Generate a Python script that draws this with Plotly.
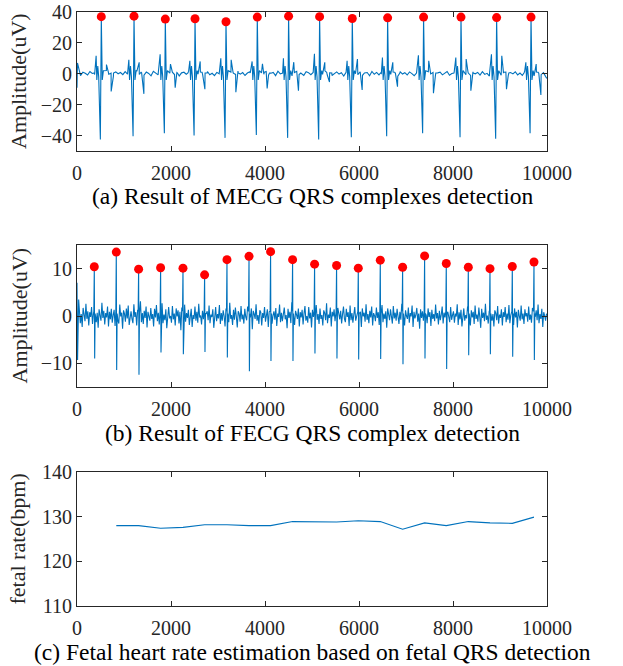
import plotly.graph_objects as go

# ---------------- data ----------------
# (a) maternal ECG: detected R peaks
mecg_r_x = [517, 1213, 1879, 2511, 3170, 3836, 4502, 5162, 5857, 6609, 7374, 8170, 8928, 9660]
mecg_r_amp = [37.0, 37.3, 35.4, 35.6, 33.7, 36.7, 37.3, 37.0, 35.8, 36.2, 36.7, 36.7, 36.4, 36.7]
mecg_s_amp = [-42.5, -40.4, -38.5, -40.0, -41.5, -39.6, -41.5, -42.5, -41.1, -40.4, -38.5, -41.1, -42.1, -38.5]
mecg_pre_amp = [11.6, 9.0, 12.6, 8.4, 10.0, 8.0, 10.0, 13.0, 8.4, 10.5, 12.0, 10.5, 12.6, 7.4]
mecg_t_amp = [6.0, 7.4, 6.3, 8.0, 9.0, 6.5, 7.5, 7.4, 9.5, 7.4, 8.4, 9.5, 11.6, 6.3]
mecg_dip_amp = [-11.4, -13.0, -9.0, -10.0, -12.0, -9.5, -11.0, -5.3, -10.5, -8.4, -12.6, -11.0, -10.0, -13.7]
mecg_shape_dx = [-150, -110, -95, -75, -55, -20, 0, 20, 45, 110, 150, 210, 260]
mecg_start = [(0, -9.0), (10, 7.0)]
mecg_end = [(10000, -3.0)]
mecg_noise = [
    0.5, -1.2, 1.0, 0.3, -0.8, 1.5, 0.2, -0.5, 1.8, 0.6, -1.0, 0.9, 2.1, -0.3, 0.4, -1.5, 1.2, 0.0, 0.8, -0.6,
    1.4, -0.2, 0.7, -1.1, 0.3, 1.9, -0.4, 0.6, -0.9, 1.1, 0.2, -1.3, 1.6, 0.5, -0.7, 0.9, -0.1, 1.3, -0.8, 0.4,
    2.0, -0.5, 0.8, -1.4, 0.6, 1.0, -0.3, 1.7, 0.1, -1.0, 0.7, -0.2, 1.2, -0.9, 0.5, 1.5, -0.6, 0.3, -1.2, 0.9,
    0.0, 1.4, -0.7, 0.6, -1.5, 1.1, 0.4, -0.4, 1.8, -0.2, 0.8, -1.1, 0.5, 1.3, -0.8, 0.2, -1.6, 1.0, 0.6, -0.3,
    1.5, -0.9, 0.4, 0.9, -1.2, 1.7, -0.1, 0.5, -0.7, 1.2, 0.3, -1.4, 0.8, 1.6, -0.5, 0.1, -1.0, 1.4, 0.7, -0.6,
    0.9, -1.3, 1.1, 0.2, -0.4, 1.9, -0.8, 0.6, -1.1, 0.3, 1.2, -0.2, 0.7, -1.5, 1.0, 0.4, -0.9, 1.6, 0.0, -0.6,
    1.3, -1.0, 0.5, 0.8, -1.3, 1.5, -0.3, 0.9, -0.7, 0.2, 1.8, -1.1, 0.6, -0.4, 1.1, 0.3, -1.6, 1.4, -0.2, 0.7,
    -0.8, 1.2, 0.1, -1.2, 0.9, 1.7, -0.5, 0.4, -1.0, 1.3, -0.1, 0.8, -1.4, 0.6, 1.0, -0.7, 0.3, 1.5, -0.9, 0.2,
    1.1, -1.3, 0.7, -0.2, 1.6, -0.6, 0.5, -1.1, 1.2, 0.0, 0.9, -0.8, 1.4, -0.4, 0.3, -1.5, 1.0, 0.6, -0.3, 1.8,
    -0.9, 0.4, 1.1, -1.2, 0.8, -0.1, 1.3, -0.7, 0.5, -1.0, 1.6, 0.2, -0.5, 0.9, -1.4, 1.2, 0.3, -0.6, 0.7, -2.0,
]

# (b) fetal ECG: detected R peaks
fecg_r_x = [368, 836, 1311, 1779, 2255, 2715, 3191, 3660, 4119, 4587,
            5055, 5523, 5985, 6453, 6928, 7396, 7857, 8326, 8787, 9262, 9723]
fecg_r_amp = [10.4, 13.5, 9.9, 10.2, 10.1, 8.7, 11.9, 12.6, 13.6, 11.9,
              10.95, 10.66, 10.1, 11.8, 10.3, 12.7, 11.1, 10.3, 10.0, 10.45, 11.4]
fecg_s_amp = [-9.0, -11.4, -12.4, -7.7, -8.1, -7.6, -8.75, -11.65, -9.5, -9.5,
              -7.9, -9.0, -9.2, -9.1, -10.2, -9.0, -11.2, -8.3, -8.1, -8.6, -9.3]
fecg_shape_dx = [-10, 0, 8, 18]
fecg_start = [(0, 7.0), (12, -9.3), (35, 3.5)]
fecg_noise = [
    1.2, -0.8, 2.1, -1.5, 0.4, -2.3, 1.7, 0.3, -1.1, 2.6, -0.6, 1.0, -2.0, 0.8, -0.2, 1.9, -1.7, 0.5, -0.9, 2.3,
    -1.3, 0.7, -2.5, 1.4, 0.1, -1.0, 2.8, -0.4, 1.1, -1.8, 0.6, -0.3, 2.0, -2.2, 0.9, -0.7, 1.5, -1.4, 0.2, 1.3,
    -2.1, 0.4, 1.8, -0.9, -1.6, 2.4, -0.1, 0.7, -2.7, 1.2, 0.5, -1.2, 1.6, -0.5, 2.2, -1.9, 0.3, 1.0, -0.6, -1.5,
    2.5, -0.2, 0.8, -2.0, 1.3, -0.8, 0.1, 3.1, -1.3, 0.6, -1.7, 1.1, -0.4, 2.0, -2.4, 0.9, 0.2, -1.0, 1.7, -0.6,
    0.4, -2.2, 1.5, -0.3, 2.3, -1.1, 0.7, -1.8, 1.0, -0.2, 2.7, -1.5, 0.3, -0.9, 1.4, -2.6, 0.8, 1.9, -0.5, 0.0,
    -1.4, 2.1, -0.7, 0.5, -2.0, 1.6, -0.1, 1.2, -1.6, 0.9, -3.0, 1.8, 0.4, -0.8, 2.4, -1.2, 0.6, -0.4, 1.3, -1.9,
    0.7, 1.5, -2.3, 0.2, -0.6, 2.0, -1.0, 0.9, -1.4, 2.6, -0.3, 0.1, -1.8, 1.1, -0.7, 1.7, -2.1, 0.5, 1.0, -0.9,
    2.2, -1.5, 0.3, -0.2, 1.4, -2.5, 0.8, 1.9, -1.1, 0.4, -0.5, 2.3, -1.7, 0.6, -1.0, 1.2, 0.0, -2.2, 1.6, -0.4,
    0.9, -1.3, 2.8, -0.6, 0.2, -1.9, 1.3, -0.8, 1.8, -0.1, -2.4, 1.0, 0.5, -1.2, 2.1, -0.7, 0.3, -1.6, 1.5, -0.2,
    -0.9, 2.0, -1.4, 0.7, -0.3, 1.6, -2.8, 1.1, 0.4, -0.6, 2.5, -1.0, 0.2, -1.7, 1.2, 0.8, -2.0, 0.6, -0.4, 1.9,
    -1.2, 0.3, 1.4, -2.3, 0.9, -0.5, 2.2, -1.6, 0.1, 1.0, -0.8, 1.7, -2.1, 0.5, -0.2, 2.4, -1.3, 0.7, -1.1, 0.4,
    1.8, -0.7, 0.2, -2.6, 1.5, -0.4, 0.9, -1.5, 2.9, -0.9, 0.6, -1.9, 1.1, 0.3, -0.6, 1.6, -2.2, 0.8, -0.3, 1.3,
    -1.8, 0.5, 2.1, -1.0, 0.0, -1.4, 1.9, -0.5, 0.7, -2.4, 1.3, -0.2, 1.0, -1.2, 2.3, -0.8, 0.4, -1.7, 1.6, -0.6,
    0.2, -2.0, 1.2, 0.6, -0.9, 2.7, -1.5, 0.3, -0.4, 1.8, -2.2, 0.9, -0.1, 1.4, -1.1, 0.5, -2.6, 1.7, 0.1, -0.7,
    1.1, -1.6, 0.4, 2.0, -0.6, -1.3, 1.5, -0.2, 0.8, -2.1, 2.2, -0.9, 0.6, -1.4, 0.3, 1.9, -1.0, 0.2, -1.8, 1.3,
    -0.5, 0.9, -2.3, 1.6, -0.1, 0.7, -1.2, 2.5, -0.8, 0.4, -1.5, 1.1, -0.3, 2.0, -2.0, 0.6, 0.1, -1.1, 1.8, -0.4,
    0.8, -1.9, 1.3, -0.7, 2.3, -1.3, 0.5, -0.6, 1.0, -2.5, 1.6, 0.2, -0.9, 1.4, -0.2, -1.6, 2.1, -0.5, 0.7, -1.0,
    1.5, -0.3, -1.7, 0.9, -0.8, 2.6, -1.1, 0.4, -2.0, 1.2, 0.0, -0.6, 1.8, -1.4, 0.6, -0.1, 2.2, -2.3, 0.9, -0.5,
    0.3, 1.7, -1.2, 0.5, -2.7, 1.4, -0.4, 1.0, -1.0, 2.1, -0.7, 0.2, -1.5, 1.6, -0.2, 0.8, -2.1, 1.3, -0.6, 0.4,
    -1.1, 2.4, -0.5, 0.6, -1.8, 1.1, -0.9, 0.3, 2.0, -1.6, 0.7, -0.3, 1.5, -2.4, 0.9, 0.1, -1.3, 1.9, -0.8, 0.2,
    1.0, -1.4, 0.5, -0.1, 2.5, -1.9, 0.8, -0.7, 1.3, -2.2, 0.4, 1.6, -1.0, 0.2, -0.5, 2.0, -1.5, 0.6, -2.0, 1.2,
    -0.3, 0.9, -1.7, 2.2, -0.6, 0.3, -1.2, 1.8, -0.2, -2.5, 1.5, -0.4, 0.7, -1.1, 2.6, -0.8, 0.1, -1.6, 1.0, -0.5,
    1.7, -1.0, 0.4, -2.2, 1.2, 0.6, -0.9, 2.1, -1.6, 0.3, -0.4, 1.4, -2.0, 0.8, -0.2, 1.9, -1.3, 0.5, -0.8, 2.3,
    -1.5, 0.2, 1.1, -0.6, -1.9, 1.6, -0.3, 0.9, -2.4, 1.3, 0.0, -1.0, 2.2, -0.7, 0.5, -1.7, 1.4, -0.1, 0.6, -1.2,
    2.0, -0.8, 0.3, -1.4, 1.7, -2.1, 0.6, -0.2, 1.2, -0.9, 2.4, -1.5, 0.4, -0.6, 1.5, -2.3, 0.8, 0.1, -1.0, 0.5,
]

# (c) fetal heart rate (bpm), at fetal beats 2..21
fhr_x = fecg_r_x[1:]
fhr_bpm = [128.0, 128.0, 127.4, 127.6, 128.2, 128.2, 128.0, 128.0, 128.9, 128.8,
           128.8, 129.1, 128.9, 127.2, 128.6, 128.0, 128.9, 128.6, 128.5, 129.9]

x_ticks = [0, 2000, 4000, 6000, 8000, 10000]
x_tick_labels = ["0", "2000", "4000", "6000", "8000", "10000"]
captions = ["(a) Result of MECG QRS complexes detection",
            "(b) Result of FECG QRS complex detection",
            "(c) Fetal heart rate estimation based on fetal QRS detection"]
ytitles = ["Amplitude(uV)", "Amplitude(uV)", "fetal rate(bpm)"]


# ---------------- build traces ----------------
def build_signal(start, noise, noise_x0, noise_dx, beats_x, shape_dx, shape_vals, core, end):
    pts = list(start)
    xmin = max(p[0] for p in start) + 15
    for i, v in enumerate(noise):
        x = noise_x0 + noise_dx * i
        if x <= xmin:
            continue
        if any(r + core[0] <= x <= r + core[1] for r in beats_x):
            continue
        pts.append((x, v))
    for i, r in enumerate(beats_x):
        for dx, val in zip(shape_dx, shape_vals(i)):
            pts.append((r + dx, val))
    pts += list(end)
    pts.sort(key=lambda p: p[0])
    return [p[0] for p in pts], [p[1] for p in pts]


xa, ya = build_signal(
    mecg_start, mecg_noise, 25, 50, mecg_r_x, mecg_shape_dx,
    lambda i: [0.5, mecg_pre_amp[i], -4.0, 5.0, -2.0, mecg_s_amp[i], mecg_r_amp[i],
               -4.0, 2.0, mecg_t_amp[i], 1.0, mecg_dip_amp[i], 0.5],
    (-120, 60), mecg_end)

xb, yb = build_signal(
    fecg_start, fecg_noise, 10, 20, fecg_r_x, fecg_shape_dx,
    lambda i: [1.0, fecg_r_amp[i], fecg_s_amp[i], 0.5],
    (-15, 25), [])

LINE = '#0072BD'
AXC = '#262626'
FONT = '"Liberation Serif", "Times New Roman", Times, serif'

fig = go.Figure()
fig.add_trace(go.Scatter(x=xa, y=ya, mode='lines', line=dict(color=LINE, width=1.1),
                         xaxis='x', yaxis='y', hoverinfo='skip'))
fig.add_trace(go.Scatter(x=mecg_r_x, y=mecg_r_amp, mode='markers', cliponaxis=False,
                         marker=dict(color='#FF0000', size=9), xaxis='x', yaxis='y'))
fig.add_trace(go.Scatter(x=xb, y=yb, mode='lines', line=dict(color=LINE, width=1.1),
                         xaxis='x2', yaxis='y2', hoverinfo='skip'))
fig.add_trace(go.Scatter(x=fecg_r_x, y=fecg_r_amp, mode='markers', cliponaxis=False,
                         marker=dict(color='#FF0000', size=9), xaxis='x2', yaxis='y2'))
fig.add_trace(go.Scatter(x=fhr_x, y=fhr_bpm, mode='lines', line=dict(color=LINE, width=1.1),
                         xaxis='x3', yaxis='y3'))

axis_style = dict(showline=True, linecolor=AXC, linewidth=1, mirror='ticks', ticks='inside',
                  ticklen=5, tickwidth=1, tickcolor=AXC, showgrid=False, zeroline=False,
                  automargin=False, ticklabeloverflow='allow',
                  tickfont=dict(family=FONT, size=20, color=AXC))

# body margin is removed (post_script), so figure pixels = page pixels
W, H = 623, 666
ML, MR, MT, MB = 77, 76, 12, 60
plot_h = H - MT - MB
plot_w = W - ML - MR


def py(page_px):
    return (H - MB - page_px) / plot_h


def pxx(page_px):
    return (page_px - ML) / plot_w


doms = [(py(151), py(12)), (py(387), py(245)), (py(606), py(472))]
doms = [(max(0, a), min(1, b)) for a, b in doms]

xcommon = dict(domain=[0, 1], range=[0, 10000], tickvals=x_ticks, ticktext=x_tick_labels,
               ticklabelstandoff=4)
fig.update_layout(
    width=W, height=H, autosize=False,
    margin=dict(l=ML, r=MR, t=MT, b=MB, autoexpand=False),
    paper_bgcolor='white', plot_bgcolor='white', showlegend=False,
    xaxis=dict(anchor='y', **xcommon, **axis_style),
    yaxis=dict(domain=list(doms[0]), range=[-50, 40], tickvals=[-40, -20, 0, 20, 40], anchor='x', **axis_style),
    xaxis2=dict(anchor='y2', **xcommon, **axis_style),
    yaxis2=dict(domain=list(doms[1]), range=[-15, 15], tickvals=[-10, 0, 10], anchor='x2', **axis_style),
    xaxis3=dict(anchor='y3', **xcommon, **axis_style),
    yaxis3=dict(domain=list(doms[2]), range=[110, 140], tickvals=[110, 120, 130, 140], anchor='x3', **axis_style),
)

cap_y = [196, 433, 652]
title_x = [18.5, 18.5, 16.5]
ann = []
for i in range(3):
    ann.append(dict(text=captions[i], x=0.5, y=py(cap_y[i]), xref='paper', yref='paper',
                    xanchor='center', yanchor='middle', showarrow=False,
                    font=dict(family=FONT, size=23.5, color='black')))
    ann.append(dict(text=ytitles[i], x=pxx(title_x[i]), y=(doms[i][0] + doms[i][1]) / 2,
                    xref='paper', yref='paper', xanchor='center', yanchor='middle',
                    textangle=-90, showarrow=False,
                    font=dict(family=FONT, size=22, color=AXC)))
fig.update_layout(annotations=ann)

fig.write_html("out.html", config={'displayModeBar': False},
               post_script="document.body.style.margin='0';document.body.style.padding='0';")
